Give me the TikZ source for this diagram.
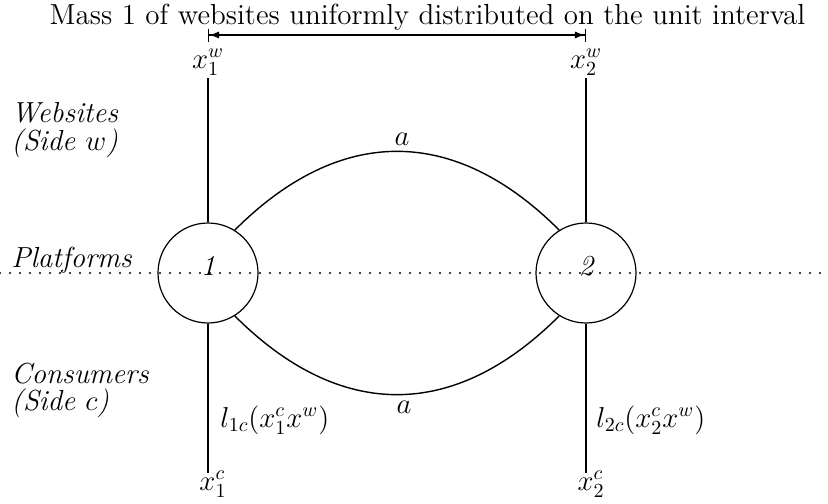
\documentclass[tikz,border=0pt]{standalone}
\usetikzlibrary{arrows.meta}
\newcommand\figsize{\fontsize{14.5}{17}\selectfont}
\begin{document}
\begin{tikzpicture}[x=0.5pt,y=-0.5pt,
  plat/.style={circle,draw,line width=0.6pt,minimum size=50pt,inner sep=0pt},
  lbl/.style={inner sep=0pt,font=\figsize},
  itl/.style={inner sep=0pt,font=\figsize\itshape,anchor=base west},
  edge/.style={line width=0.7pt},
  dotline/.style={line width=1.1pt,line cap=round,dash pattern=on 0pt off 5pt}]
\useasboundingbox (0,0) rectangle (828,503);
\node[lbl,anchor=base] (title) at (427.5,25) {Mass 1 of websites uniformly distributed on the unit interval};
\coordinate (aL) at (208,35);
\coordinate (aR) at (586,35);
\draw[line width=0.6pt,{Bar[width=6.5pt]Latex[length=5pt,width=3.6pt]}-{Latex[length=5pt,width=3.6pt]Bar[width=6.5pt]}] (aL) -- (aR);
\node[lbl,anchor=base] (x1w) at (208,68) {$x_1^w$};
\node[lbl,anchor=base] (x2w) at (586,68) {$x_2^w$};
\node[lbl,anchor=base] (x1c) at (213,490) {$x_1^c$};
\node[lbl,anchor=base] (x2c) at (591,490) {$x_2^c$};
\coordinate (t1) at (208,78);
\coordinate (t2) at (586,78);
\coordinate (b1) at (208,473);
\coordinate (b2) at (586,473);
\coordinate (dl) at (0,273);
\coordinate (dr) at (828,273);
\draw[dotline] (dl) -- (dr);
\node[plat] (c1) at (208,273) {};
\node[plat] (c2) at (586,273) {};
\node[lbl,anchor=base,font=\figsize\itshape] (n1) at (208,275) {1};
\node[lbl,anchor=base,font=\figsize\itshape] (n2) at (586,275) {2};
\node[itl] (web) at (11,122) {Websites};
\node[itl] (sidew) at (11,150) {(Side $w$)};
\node[itl] (plt) at (11,267) {Platforms};
\node[itl] (con) at (11,383) {Consumers};
\node[itl] (sidec) at (11,410) {(Side $c$)};
\draw[edge] (t1) -- (c1.north);
\draw[edge] (t2) -- (c2.north);
\draw[edge] (c1.south) -- (b1);
\draw[edge] (c2.south) -- (b2);
\draw[edge] (c1.58) .. controls +(105,-105) and +(-105,-105) .. (c2.122);
\draw[edge] (c1.-58) .. controls +(105,105) and +(-105,105) .. (c2.-122);
\node[lbl,anchor=base] (atop) at (402,145) {$a$};
\node[lbl,anchor=base] (abot) at (404,413) {$a$};
\node[lbl,anchor=base west] (l1) at (220,427) {$l_{1c}(x_1^c x^w)$};
\node[lbl,anchor=base west] (l2) at (596,427) {$l_{2c}(x_2^c x^w)$};
\end{tikzpicture}
\end{document}
